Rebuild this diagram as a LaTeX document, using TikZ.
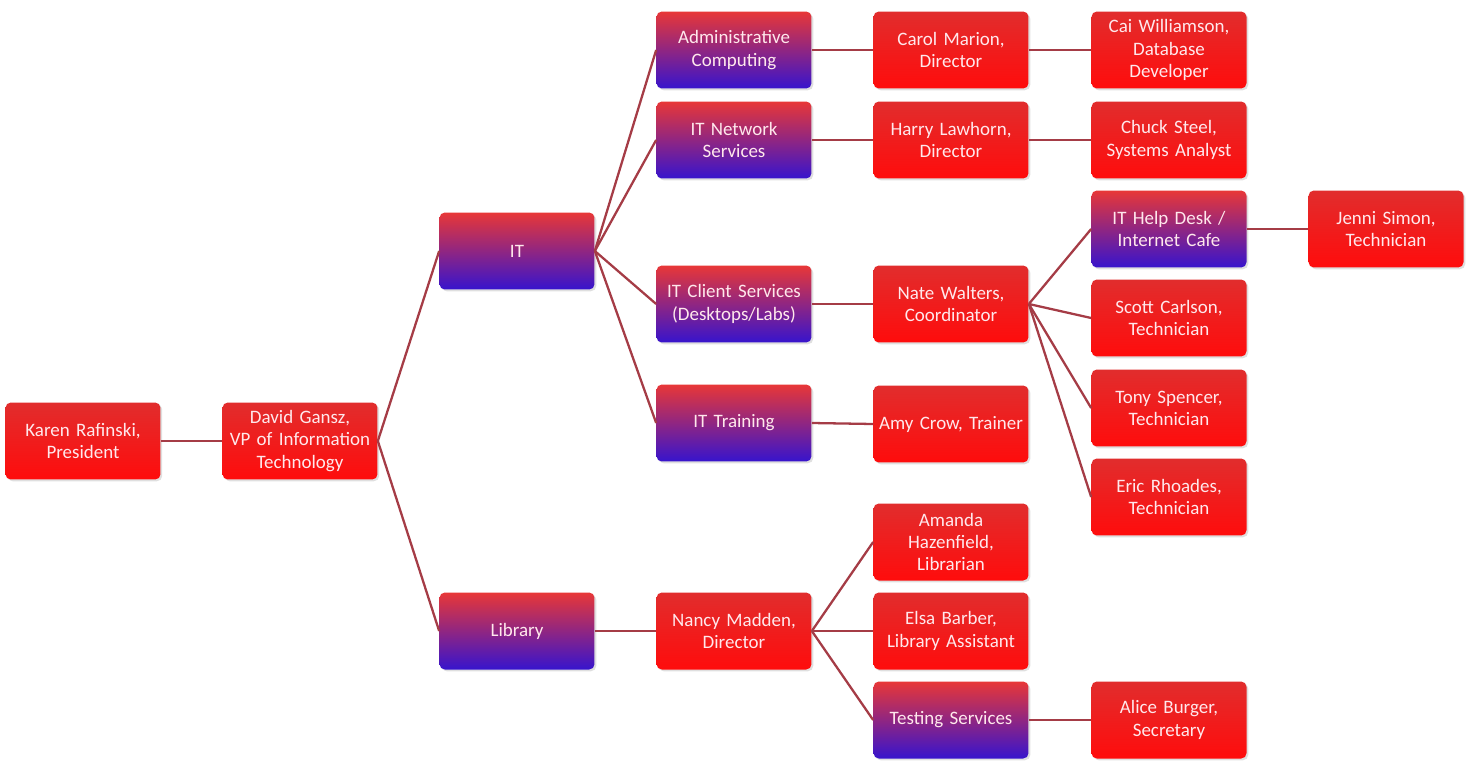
\documentclass[tikz,border=0pt]{standalone}
\usepackage{fontspec}
\setmainfont{Carlito}
\usetikzlibrary{shadows}
\definecolor{lnk}{RGB}{165,60,70}
\definecolor{pr1}{RGB}{225,45,45}
\definecolor{pr2}{RGB}{255,12,12}
\definecolor{dp1}{RGB}{232,55,55}
\definecolor{dp2}{RGB}{55,20,205}
\definecolor{txt}{RGB}{255,232,236}
\begin{document}
\begin{tikzpicture}[x=0.02cm,y=-0.02cm,
  box/.style={rounded corners=3pt, minimum width=3.1cm, minimum height=1.54cm,
    text width=3.0cm, align=center, text=txt, inner sep=0pt,
    font=\fontsize{10.8}{12.6}\selectfont,
    drop shadow={opacity=0.25, shadow xshift=1pt, shadow yshift=-1pt}},
  person/.style={box, top color=pr1, bottom color=pr2},
  dept/.style={box, top color=dp1, bottom color=dp2},
  link/.style={draw=lnk, line width=1.3pt}]
\useasboundingbox (0,0) rectangle (1470,764);
% column 1-2
\node[person] (karen) at (83,441) {Karen Rafinski,\\President};
\node[person] (david) at (300,441) {David Gansz,\\VP of Information\\Technology};
% column 3
\node[dept] (it) at (517,251) {IT};
\node[dept] (lib) at (517,631) {Library};
% column 4
\node[dept] (adm) at (734,50) {Administrative\\Computing};
\node[dept] (net) at (734,140) {IT Network\\Services};
\node[dept] (cli) at (734,304) {IT Client Services\\(Desktops/Labs)};
\node[dept] (trn) at (734,423) {IT Training};
\node[person] (nancy) at (734,631) {Nancy Madden,\\Director};
% column 5
\node[person] (carol) at (951,50) {Carol Marion,\\Director};
\node[person] (harry) at (951,140) {Harry Lawhorn,\\Director};
\node[person] (nate) at (951,304) {Nate Walters,\\Coordinator};
\node[person] (amy) at (951,424) {Amy Crow, Trainer};
\node[person] (amanda) at (951,542) {Amanda\\Hazenfield,\\Librarian};
\node[person] (elsa) at (951,631) {Elsa Barber,\\Library Assistant};
\node[dept] (test) at (951,720) {Testing Services};
% column 6
\node[person] (cai) at (1169,50) {Cai Williamson,\\Database\\Developer};
\node[person] (chuck) at (1169,140) {Chuck Steel,\\Systems Analyst};
\node[dept] (help) at (1169,229) {IT Help Desk /\\Internet Cafe};
\node[person] (scott) at (1169,318) {Scott Carlson,\\Technician};
\node[person] (tony) at (1169,408) {Tony Spencer,\\Technician};
\node[person] (eric) at (1169,497) {Eric Rhoades,\\Technician};
\node[person] (alice) at (1169,720) {Alice Burger,\\Secretary};
% column 7
\node[person] (jenni) at (1386,229) {Jenni Simon,\\Technician};
% connectors
\draw[link] (karen.east) -- (david.west);
\draw[link] (david.east) -- (it.west);
\draw[link] (david.east) -- (lib.west);
\foreach \c in {adm,net,cli,trn} \draw[link] (it.east) -- (\c.west);
\draw[link] (lib.east) -- (nancy.west);
\draw[link] (adm.east) -- (carol.west);
\draw[link] (net.east) -- (harry.west);
\draw[link] (cli.east) -- (nate.west);
\draw[link] (trn.east) -- (amy.west);
\foreach \c in {amanda,elsa,test} \draw[link] (nancy.east) -- (\c.west);
\draw[link] (carol.east) -- (cai.west);
\draw[link] (harry.east) -- (chuck.west);
\foreach \c in {help,scott,tony,eric} \draw[link] (nate.east) -- (\c.west);
\draw[link] (test.east) -- (alice.west);
\draw[link] (help.east) -- (jenni.west);
\end{tikzpicture}
\end{document}
